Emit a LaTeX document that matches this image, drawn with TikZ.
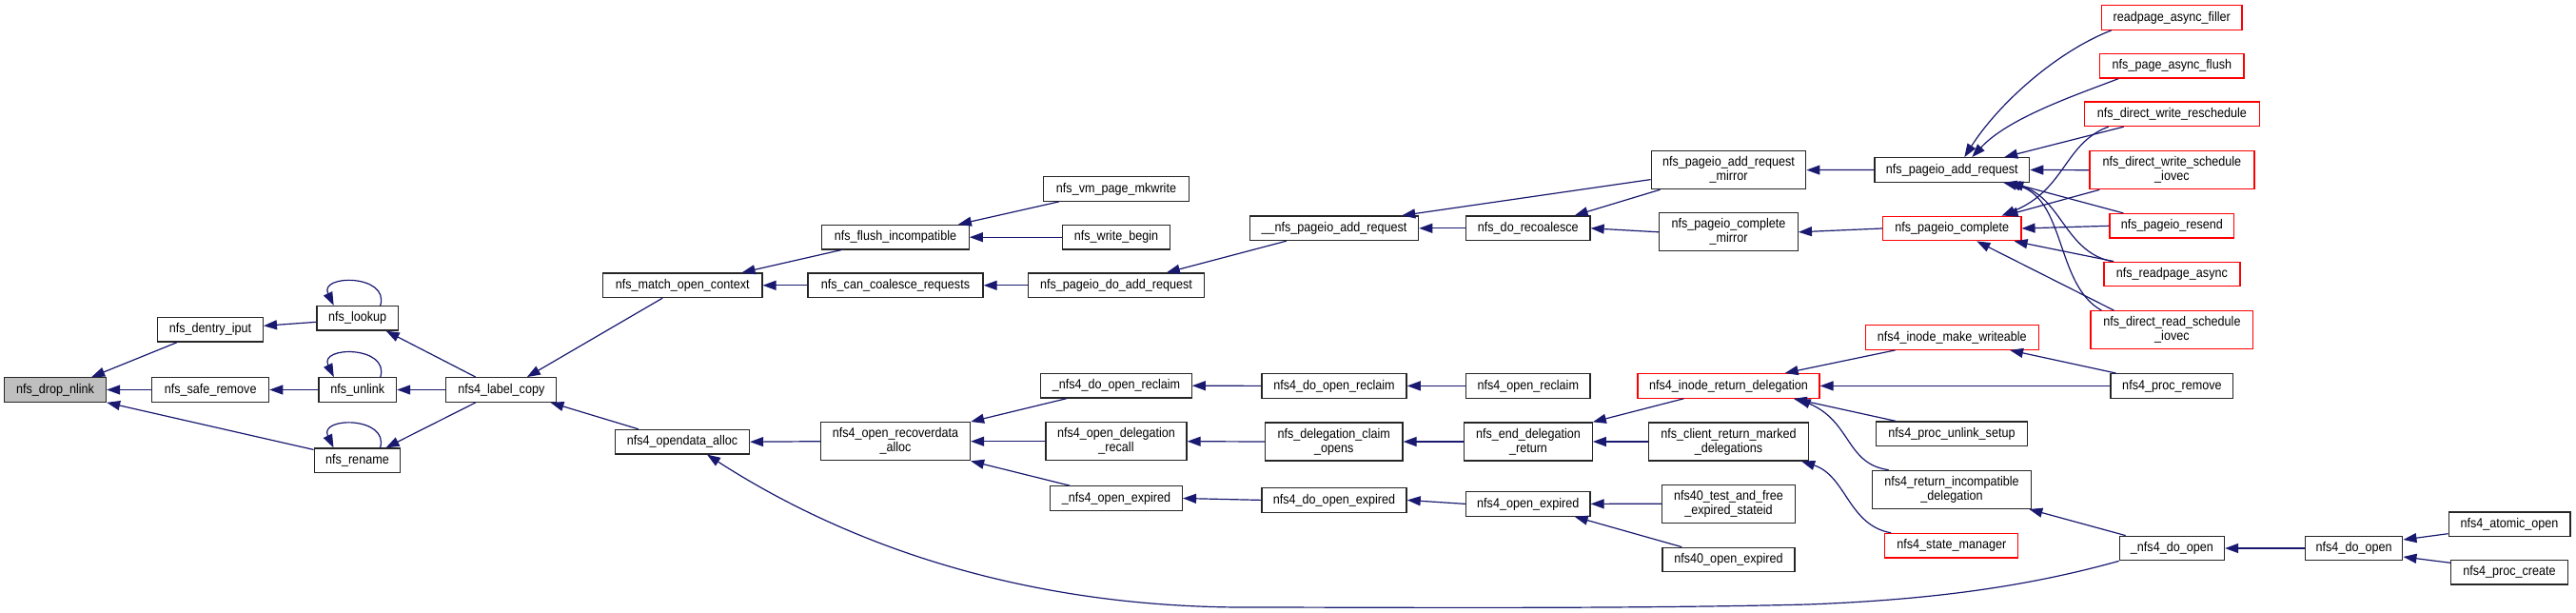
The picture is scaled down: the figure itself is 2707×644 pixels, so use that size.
\documentclass[tikz,border=0pt]{standalone}
\usepackage{fontspec}
\setmainfont{Liberation Sans}[FakeStretch=0.9]
\usetikzlibrary{arrows.meta,calc}
\definecolor{edgec}{HTML}{191970}
\definecolor{grayfill}{HTML}{BFBFBF}
\newcommand\fnt{\fontsize{14}{15}\selectfont}
\tikzset{
  nb/.style={draw=black!85, line width=1.3pt, fill=white, minimum height=25.5pt, inner sep=0pt, align=center, font=\fnt},
  nr/.style={nb, draw=red},
  ntwo/.style={minimum height=40pt},
  e/.style={draw=edgec, line width=1.2pt, -{Triangle[length=14pt,width=10pt]}},
}
\begin{document}
\begin{tikzpicture}[x=1pt,y=-1pt]
\useasboundingbox[fill=white] (0,0) rectangle (2707,644);
% column 1-3
\node[nb, fill=grayfill, minimum width=107pt] (drop) at (58,409.5) {nfs\_drop\_nlink};
\node[nb, minimum width=110.7pt] (dentry) at (221,346.3) {nfs\_dentry\_iput};
\node[nb, minimum width=122.8pt] (safe) at (221.2,409.5) {nfs\_safe\_remove};
\node[nb, minimum width=85.3pt] (lookup) at (375.7,334.3) {nfs\_lookup};
\node[nb, minimum width=81.5pt] (unlink) at (375.8,409.5) {nfs\_unlink};
\node[nb, minimum width=90.6pt] (rename) at (375.5,483.8) {nfs\_rename};
\node[nb, minimum width=116pt] (label) at (526.8,409.5) {nfs4\_label\_copy};
\node[nb, minimum width=167.4pt] (match) at (717.2,299.8) {nfs\_match\_open\_context};
\node[nb, minimum width=141pt] (opendata) at (717,464.2) {nfs4\_opendata\_alloc};
% column 5
\node[nb, minimum width=154.5pt] (flush) at (941,249.2) {nfs\_flush\_incompatible};
\node[nb, minimum width=184pt] (canco) at (941,299.8) {nfs\_can\_coalesce\_requests};
\node[nb, ntwo, minimum width=157pt] (recov) at (941,463.7) {nfs4\_open\_recoverdata\\\_alloc};
% column 6
\node[nb, minimum width=153pt] (vm) at (1173,198.5) {nfs\_vm\_page\_mkwrite};
\node[nb, minimum width=113pt] (wbegin) at (1173,249.2) {nfs\_write\_begin};
\node[nb, minimum width=184.4pt] (doadd) at (1173,299.8) {nfs\_pageio\_do\_add\_request};
\node[nb, minimum width=158.4pt] (doreclaimU) at (1173,405.2) {\_nfs4\_do\_open\_reclaim};
\node[nb, ntwo, minimum width=148pt] (delrecall) at (1173,463.7) {nfs4\_open\_delegation\\\_recall};
\node[nb, minimum width=138.8pt] (openexpU) at (1173,523.5) {\_nfs4\_open\_expired};
% column 7
\node[nb, minimum width=177.2pt] (pnadd) at (1402,239.8) {\_\_nfs\_pageio\_add\_request};
\node[nb, minimum width=152.2pt] (doreclaim) at (1402,405.4) {nfs4\_do\_open\_reclaim};
\node[nb, ntwo, minimum width=144.6pt] (claim) at (1401.7,464) {nfs\_delegation\_claim\\\_opens};
\node[nb, minimum width=152.2pt] (doexpired) at (1402,525.4) {nfs4\_do\_open\_expired};
% column 8
\node[nb, minimum width=130.4pt] (recoal) at (1605.8,239.8) {nfs\_do\_recoalesce};
\node[nb, minimum width=130.4pt] (openreclaim) at (1605.8,405.4) {nfs4\_open\_reclaim};
\node[nb, ntwo, minimum width=134.4pt] (enddel) at (1606,464) {nfs\_end\_delegation\\\_return};
\node[nb, minimum width=130.4pt] (openexpired) at (1605.8,529.4) {nfs4\_open\_expired};
% column 9
\node[nb, ntwo, minimum width=162.6pt] (addmirror) at (1816.5,178.6) {nfs\_pageio\_add\_request\\\_mirror};
\node[nb, ntwo, minimum width=145.6pt] (compmirror) at (1816.5,243.8) {nfs\_pageio\_complete\\\_mirror};
\node[nr, minimum width=191pt] (inoderet) at (1816.5,405.4) {nfs4\_inode\_return\_delegation};
\node[nb, ntwo, minimum width=168pt] (clientret) at (1816.5,464) {nfs\_client\_return\_marked\\\_delegations};
\node[nb, ntwo, minimum width=140.2pt] (test40) at (1816.5,529.2) {nfs40\_test\_and\_free\\\_expired\_stateid};
\node[nb, minimum width=139.2pt] (openexp40) at (1816.5,588) {nfs40\_open\_expired};
% column 10
\node[nb, minimum width=162.6pt] (addreq) at (2051.3,178.5) {nfs\_pageio\_add\_request};
\node[nr, minimum width=145.2pt] (complete) at (2051.3,240) {nfs\_pageio\_complete};
\node[nr, minimum width=182.2pt] (mkwrite) at (2051.3,354.5) {nfs4\_inode\_make\_writeable};
\node[nb, minimum width=159pt] (unlinksetup) at (2051,455.7) {nfs4\_proc\_unlink\_setup};
\node[nb, ntwo, minimum width=167.3pt] (retincomp) at (2051,514.3) {nfs4\_return\_incompatible\\\_delegation};
\node[nr, minimum width=140pt] (statemgr) at (2050.8,573.2) {nfs4\_state\_manager};
% column 11
\node[nr, minimum width=147.7pt] (filler) at (2282.2,18.5) {readpage\_async\_filler};
\node[nr, minimum width=151.3pt] (flushasync) at (2282.4,69.3) {nfs\_page\_async\_flush};
\node[nr, minimum width=184.2pt] (wresched) at (2282.4,119.8) {nfs\_direct\_write\_reschedule};
\node[nr, ntwo, minimum width=173pt] (wsched) at (2282.4,178.7) {nfs\_direct\_write\_schedule\\\_iovec};
\node[nr, minimum width=130.8pt] (resend) at (2282.4,237.3) {nfs\_pageio\_resend};
\node[nr, minimum width=143pt] (readasync) at (2282.4,288) {nfs\_readpage\_async};
\node[nr, ntwo, minimum width=170.8pt] (rsched) at (2282.4,346.7) {nfs\_direct\_read\_schedule\\\_iovec};
\node[nb, minimum width=128.7pt] (premove) at (2282.4,405.4) {nfs4\_proc\_remove};
\node[nb, minimum width=110.2pt] (doopenU) at (2282.4,576) {\_nfs4\_do\_open};
% column 12-13
\node[nb, minimum width=102.4pt] (doopen) at (2473.6,576) {nfs4\_do\_open};
\node[nb, minimum width=127.7pt] (atomic) at (2637,550.7) {nfs4\_atomic\_open};
\node[nb, minimum width=122.5pt] (pcreate) at (2637,601.3) {nfs4\_proc\_create};

% edges left part
\draw[e] ([xshift=21pt]dentry.south west) -- ([xshift=-16pt]drop.north east);
\draw[e] (safe.west) -- (drop.east);
\draw[e] ([yshift=-2pt]rename.north west) -- (drop.south east);
\draw[e] ([yshift=-4pt]lookup.west) -- ([yshift=4pt]dentry.east);
\draw[e] ([xshift=24pt]lookup.north) .. controls +(10,-33) and +(-16,-33) .. ([xshift=-25pt]lookup.north);
\draw[e] (unlink.west) -- (safe.east);
\draw[e] ([xshift=24pt]unlink.north) .. controls +(10,-33) and +(-16,-33) .. ([xshift=-25pt]unlink.north);
\draw[e] ([xshift=24pt]rename.north) .. controls +(10,-33) and +(-16,-33) .. ([xshift=-25pt]rename.north);
\draw[e] ([xshift=-27pt]label.north) -- ([xshift=30pt]lookup.south);
\draw[e] (label.west) -- (unlink.east);
\draw[e] ([xshift=-27pt]label.south) -- ([xshift=30pt]rename.north);
\draw[e] ([xshift=-21pt]match.south) -- ([xshift=27pt]label.north);
\draw[e] ([xshift=25pt]opendata.north west) -- ([xshift=-7pt]label.south east);
\draw[e] ([xshift=21pt]flush.south west) -- ([xshift=-22pt]match.north east);
\draw[e] (canco.west) -- (match.east);
\draw[e] ([xshift=17pt]vm.south west) -- ([xshift=-12pt]flush.north east);
\draw[e] (wbegin.west) -- (flush.east);
\draw[e] (doadd.west) -- (canco.east);
\draw[e] ([xshift=39pt]pnadd.south west) -- ([xshift=-40pt]doadd.north east);
\draw[e] ([yshift=-10pt]addmirror.west) -- ([xshift=-18pt]pnadd.north east);
\draw[e] (recoal.west) -- (pnadd.east);
\draw[e] ([xshift=10pt]addmirror.south west) -- ([xshift=-17pt]recoal.north east);
\draw[e] (compmirror.west) -- (recoal.east);
\draw[e] (addreq.west) -- (addmirror.east);
\draw[e] (complete.west) -- (compmirror.east);
% right cluster
\draw[e] ([xshift=11pt]filler.south west) .. controls +(-59,23) and +(35,-55) .. ([xshift=13pt]addreq.north);
\draw[e] ([xshift=20pt]flushasync.south west) .. controls +(-47,18) and +(38,-41) .. ([xshift=21pt]addreq.north);
\draw[e] ([xshift=42pt]wresched.south west) -- ([xshift=-27pt]addreq.north east);
\draw[e] ([xshift=26pt]wresched.south west) .. controls +(-46.5,17) and +(67,-27) .. ([xshift=-21pt]complete.north east);
\draw[e] (wsched.west) -- (addreq.east);
\draw[e] ([xshift=11pt]wsched.south west) -- ([xshift=-18pt]complete.north east);
\draw[e] ([xshift=15pt]resend.north west) -- ([xshift=-21pt]addreq.south east);
\draw[e] (resend.west) -- (complete.east);
\draw[e] ([xshift=9pt]readasync.north west) .. controls +(-50,-10) and +(57,14) .. ([xshift=-24pt]addreq.south east);
\draw[e] ([xshift=11pt]readasync.north west) -- ([xshift=-8pt]complete.south east);
\draw[e] ([xshift=12pt]rsched.north west) .. controls +(-49,-26.7) and +(66,13.7) .. ([xshift=-28pt]addreq.south east);
\draw[e] ([xshift=25pt]rsched.north west) -- ([xshift=26pt]complete.south);
% lower part
\draw[e] (recov.west) -- (opendata.east);
\draw[e] ([xshift=28pt]doreclaimU.south west) -- (recov.north east);
\draw[e] (delrecall.west) -- (recov.east);
\draw[e] ([xshift=21pt]openexpU.north west) -- (recov.south east);
\draw[e] (doreclaim.west) -- (doreclaimU.east);
\draw[e] (claim.west) -- (delrecall.east);
\draw[e] (doexpired.west) -- (openexpU.east);
\draw[e] (openreclaim.west) -- (doreclaim.east);
\draw[e] (enddel.west) -- (claim.east);
\draw[e] (openexpired.west) -- (doexpired.east);
\draw[e] ([xshift=49pt]inoderet.south west) -- (enddel.north east);
\draw[e] (clientret.west) -- (enddel.east);
\draw[e] (test40.west) -- (openexpired.east);
\draw[e] ([xshift=21pt]openexp40.north west) -- ([xshift=-17pt]openexpired.south east);
\draw[e] ([xshift=32pt]mkwrite.south west) -- ([xshift=-37pt]inoderet.north east);
\draw[e] (premove.west) -- (inoderet.east);
\draw[e] ([xshift=6pt]premove.north west) -- ([xshift=-31pt]mkwrite.south east);
\draw[e] ([xshift=21pt]unlinksetup.north west) -- ([xshift=-28pt]inoderet.south east);
\draw[e] ([xshift=18pt]retincomp.north west) .. controls +(-45,-6) and +(57,24) .. ([xshift=-24pt]inoderet.south east);
\draw[e] ([xshift=7pt]statemgr.north west) .. controls +(-45,-8) and +(47,15) .. ([xshift=-8pt]clientret.south east);
\draw[e] ([xshift=7pt]doopenU.north west) -- ([xshift=-3pt]retincomp.south east);
\draw[e] (doopen.west) -- (doopenU.east);
\draw[e] ([yshift=-10pt]atomic.west) -- ([yshift=9pt]doopen.east);
\draw[e] ([yshift=10pt]pcreate.west) -- ([yshift=-9pt]doopen.east);
\draw[e] (doopenU.south west) .. controls +(-97,27) and +(130,-5) .. (1900,635)
   .. controls +(-200,5) and +(150,0) .. (1300,638)
   .. controls +(-250,-2) and +(127,82) .. ([xshift=26pt]opendata.south);
\end{tikzpicture}
\end{document}
